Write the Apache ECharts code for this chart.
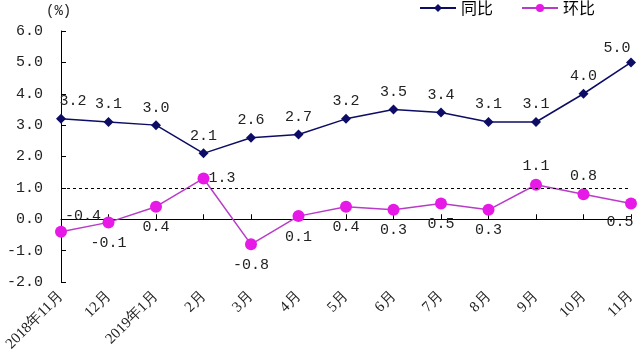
<!DOCTYPE html>
<html><head><meta charset="utf-8">
<script src="https://cdn.jsdelivr.net/npm/echarts@6/dist/echarts.min.js"></script>
<style>html,body{margin:0;padding:0;background:#fff}#c{width:640px;height:355px}</style>
</head><body><div id="c"></div>
<script>
var categories = ['2018年11月','12月','2019年1月','2月','3月','4月','5月','6月','7月','8月','9月','10月','11月'];
var yoy = [3.2,3.1,3.0,2.1,2.6,2.7,3.2,3.5,3.4,3.1,3.1,4.0,5.0];
var mom = [-0.4,-0.1,0.4,1.3,-0.8,0.1,0.4,0.3,0.5,0.3,1.1,0.8,0.5];
var momLabelPos = ['tr','bottom','bottom','right','bottom','bottom','bottom','bottom','bottom','bottom','top','top','bottomL'];
var yoyLabelPos = ['topR','top','top','top','top','top','top','top','top','top','top','top','topL'];
var refLine = 1.0;
var numFont = '"Liberation Mono", monospace';

function lbl(pos){
  if(pos==='tr') return {position:'right', offset:[-7,-16]};
  if(pos==='topR') return {position:'top', offset:[12,0]};
  if(pos==='topL') return {position:'top', offset:[-14,3]};
  if(pos==='bottomL') return {position:'bottom', offset:[-11,0]};
  if(pos==='right') return {position:'right', offset:[-6,0]};
  return {position:pos, offset:[0, pos==='bottom'?2:0]};
}
var yoyData = yoy.map(function(v,i){ return {value:v, label:lbl(yoyLabelPos[i])}; });
var momData = mom.map(function(v,i){ return {value:v, label:lbl(momLabelPos[i])}; });

var chart = echarts.init(document.getElementById('c'));
chart.setOption({
  animation:false,
  grid:{left:61,right:9,top:31,bottom:73},
  legend:{
    top:-5,right:40,itemGap:28,itemWidth:36,itemHeight:10,
    textStyle:{fontFamily:'"Noto Sans CJK SC"',fontSize:16,color:'#000'},
    data:['同比','环比']
  },
  graphic:[{type:'text',left:46,top:4,style:{text:'(%)',font:'14px "Liberation Mono"',fill:'#222'}}],
  xAxis:{
    type:'category',data:categories,boundaryGap:false,
    axisLine:{lineStyle:{color:'#000',width:1}},
    axisTick:{inside:true,length:5,lineStyle:{color:'#000'}},
    axisLabel:{rotate:45,interval:0,fontFamily:'"Liberation Serif"',fontSize:15,color:'#222',margin:12}
  },
  yAxis:{
    type:'value',min:-2,max:6,interval:1,
    axisLine:{show:true,lineStyle:{color:'#000'}},
    axisTick:{show:true,inside:true,length:5,lineStyle:{color:'#000'}},
    splitLine:{show:false},
    axisLabel:{formatter:function(v){return v.toFixed(1);},fontFamily:numFont,fontSize:15,color:'#222',margin:18}
  },
  series:[
    {name:'同比',type:'line',data:yoyData,symbol:'diamond',symbolSize:10,
     itemStyle:{color:'#0d0d66'},lineStyle:{color:'#0d0d66',width:1.5},
     label:{show:true,formatter:function(p){return p.value.toFixed(1);},fontFamily:numFont,fontSize:15,color:'#222'}},
    {name:'环比',type:'line',data:momData,symbol:'circle',symbolSize:12,
     itemStyle:{color:'#e619e6'},lineStyle:{color:'#b83cc8',width:1.5},
     label:{show:true,formatter:function(p){return p.value.toFixed(1);},fontFamily:numFont,fontSize:15,color:'#222'},
     markLine:{silent:true,symbol:'none',label:{show:false},
       lineStyle:{color:'#000',type:[3,3],width:1},
       data:[{yAxis:refLine}]}}
  ]
});
</script></body></html>
